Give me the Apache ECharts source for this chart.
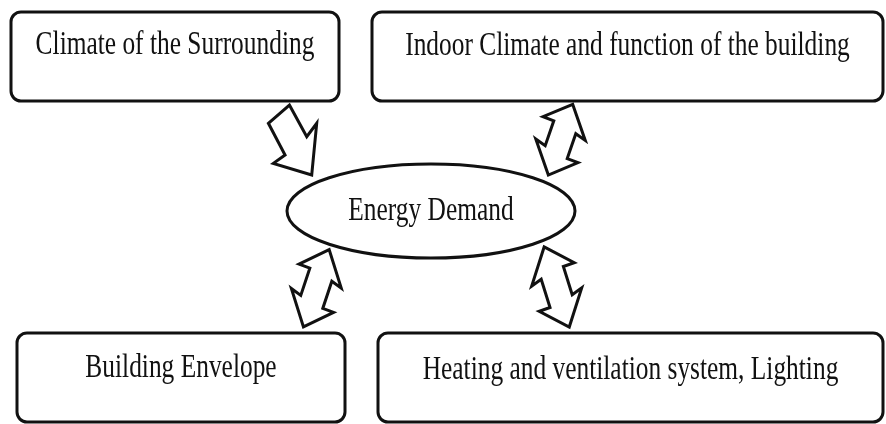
<!DOCTYPE html>
<html>
<head>
<meta charset="utf-8">
<script src="https://cdn.jsdelivr.net/npm/echarts@6/dist/echarts.min.js"></script>
<style>
html,body{margin:0;padding:0;background:#fff;}
#main{width:886px;height:424px;}
</style>
</head>
<body>
<div id="main"></div>
<script>
// ---- content (text) ----
const boxLabels = [
  'Climate of the Surrounding',
  'Indoor Climate and function of the building',
  'Building Envelope',
  'Heating and ventilation system, Lighting'
];
const centerLabel = 'Energy Demand';
// kind of link between each box and the centre
const linkKinds = ['single', 'double', 'double', 'double'];

// ---- layout (positions / sizes, kept separate from content) ----
const boxLayout = [
  { x: 11,  y: 12,  w: 328, h: 89, ty: 45.5 },
  { x: 372, y: 12,  w: 511, h: 89, ty: 46.5 },
  { x: 17,  y: 333, w: 328, h: 89, ty: 368.5 },
  { x: 378, y: 333, w: 505, h: 89, ty: 370.5 }
];
const ellipseLayout = { cx: 431, cy: 211, rx: 144, ry: 47, ty: 211 };
const arrowLayout = [
  { cx: 295.2, cy: 144.5, phi: 151.6, mirror: false, sa: 1.0 },
  { cx: 560.5, cy: 139.7, phi: 19.0,  mirror: true,  sa: 0.89 },
  { cx: 316.3, cy: 288.3, phi: 18.4,  mirror: true,  sa: 0.97 },
  { cx: 556.7, cy: 287.0, phi: -17.4, mirror: false, sa: 1.0 }
];
// arrow outline templates in local (along-axis, across-axis) units
const arrowShapes = {
  single: [[-37.5,-13.7],[-1.4,-13.9],[-8.4,-29],[34.7,0],[6.2,28.2],[4.4,13.9],[-31.4,13.5]],
  double: [[42,0],[18,24],[17.6,12.5],[-12,12.5],[-8.3,23.6],[-42,0],[-18,-24],[-17.6,-12.5],[12,-12.5],[8.3,-23.6]]
};

const FONT = "'Liberation Serif','Times New Roman',serif";
const FS = 33, SX = 0.77, INK = '#111', LW = 3;

function placeArrow(tpl, L) {
  const r = L.phi * Math.PI / 180;
  const u = [Math.sin(r), -Math.cos(r)], v = [Math.cos(r), Math.sin(r)];
  return tpl.map(([a, b]) => {
    const bb = L.mirror ? -b : b, aa = a * L.sa;
    return [L.cx + aa * u[0] + bb * v[0], L.cy + aa * u[1] + bb * v[1]];
  });
}

function textEl(str, x, y) {
  return {
    type: 'text', x: x, y: y, scaleX: SX, z: 5,
    style: { text: str, x: 0, y: 0, align: 'center', verticalAlign: 'middle',
             font: FS + 'px ' + FONT, fill: INK }
  };
}

const elements = [];
boxLabels.forEach((lab, i) => {
  const B = boxLayout[i];
  elements.push({
    type: 'rect', z: 1,
    shape: { x: B.x, y: B.y, width: B.w, height: B.h, r: 10 },
    style: { fill: '#fff', stroke: INK, lineWidth: LW }
  });
  elements.push(textEl(lab, B.x + B.w / 2, B.ty));
});
elements.push({
  type: 'ellipse', z: 1,
  shape: { cx: ellipseLayout.cx, cy: ellipseLayout.cy, rx: ellipseLayout.rx, ry: ellipseLayout.ry },
  style: { fill: '#fff', stroke: INK, lineWidth: LW }
});
elements.push(textEl(centerLabel, ellipseLayout.cx, ellipseLayout.ty));
linkKinds.forEach((k, i) => {
  elements.push({
    type: 'polygon', z: 2,
    shape: { points: placeArrow(arrowShapes[k], arrowLayout[i]) },
    style: { fill: '#fff', stroke: INK, lineWidth: LW, lineJoin: 'miter' }
  });
});

const chart = echarts.init(document.getElementById('main'));
chart.setOption({
  backgroundColor: '#fff',
  animation: false,
  graphic: { elements: elements }
});
</script>
</body>
</html>
